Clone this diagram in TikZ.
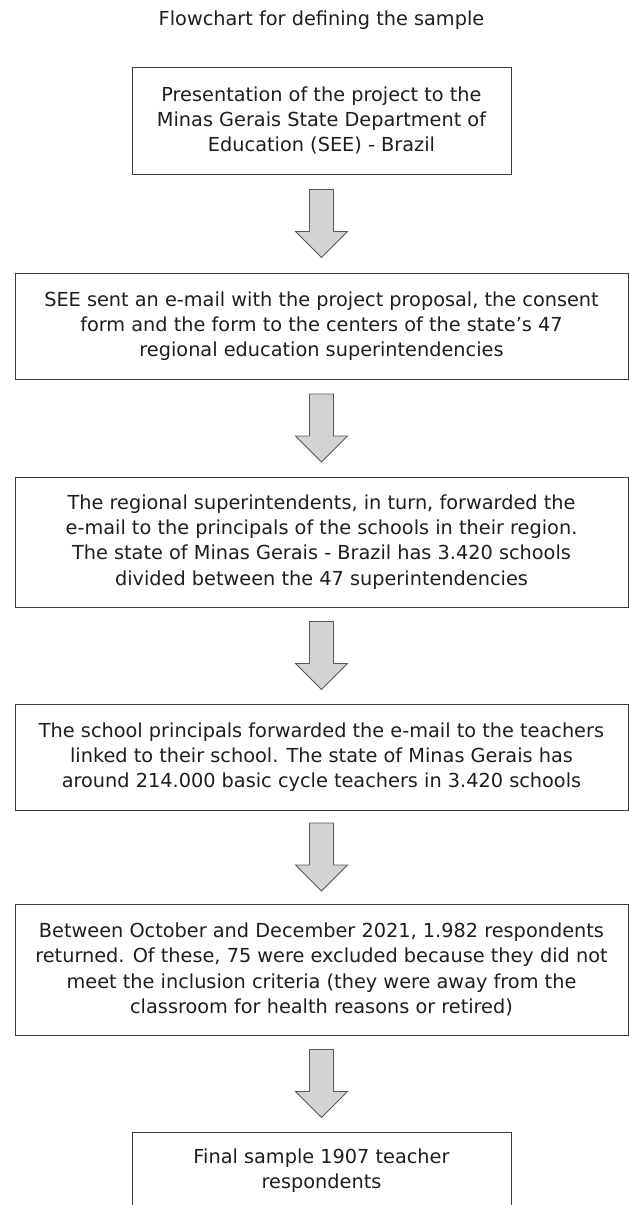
\documentclass[tikz,border=0pt]{standalone}
\usepackage{fontspec}
\setmainfont{DejaVu Sans}
\usetikzlibrary{calc}

\definecolor{linegray}{HTML}{3C3C3C}
\definecolor{arrowfill}{HTML}{D3D3D5}
\definecolor{inkgray}{HTML}{1E1E1E}

\tikzset{
    box/.style={draw=linegray, line width=1pt, align=center, inner sep=0pt,
        text=inkgray, font=\fontsize{19.3}{25.3}\selectfont},
    widebox/.style={box, minimum width=613pt},
    narrowbox/.style={box, minimum width=379pt},
    blockarrow/.style={draw=linegray!85, fill=arrowfill, line width=0.9pt, line join=miter}
}

\begin{document}
\begin{tikzpicture}[x=1pt, y=-1pt]
        \useasboundingbox (0,0) rectangle (629,1205);

        \node[anchor=base, text=inkgray, font=\fontsize{19.3}{25.3}\selectfont] (title) at (321.5,25) {Flowchart for defining the sample};

        \node[narrowbox, minimum height=107pt] (present) at (321.5,120.5)
            {Presentation of the project to the\\Minas Gerais State Department of\\Education (SEE) - Brazil};
        \node[widebox, minimum height=106pt] (email) at (321.5,326)
            {SEE sent an e-mail with the project proposal, the consent\\form and the form to the centers of the state’s 47\\regional education superintendencies};
        \node[widebox, minimum height=130pt] (regional) at (321.5,542)
            {The regional superintendents, in turn, forwarded the\\e-mail to the principals of the schools in their region.\\The state of Minas Gerais - Brazil has 3.420 schools\\divided between the 47 superintendencies};
        \node[widebox, minimum height=106pt] (principals) at (321.5,757)
            {The school principals forwarded the e-mail to the teachers\\linked to their school. The state of Minas Gerais has\\around 214.000 basic cycle teachers in 3.420 schools};
        \node[widebox, minimum height=131pt] (returned) at (321.5,969.5)
            {Between October and December 2021, 1.982 respondents\\returned. Of these, 75 were excluded because they did not\\meet the inclusion criteria (they were away from the\\classroom for health reasons or retired)};
        \node[narrowbox, minimum height=78pt] (final) at (321.5,1171)
            {Final sample 1907 teacher\\respondents};

        % block arrows between the boxes
        \foreach \from/\to in {present/email, email/regional, regional/principals, principals/returned, returned/final}{
            \coordinate (mid) at ($(\from.south)!0.5!(\to.north)$);
            \draw[blockarrow] ($(mid)+(-12,-34)$) -- ($(mid)+(12,-34)$) -- ($(mid)+(12,8)$)
                -- ($(mid)+(26,8)$) -- ($(mid)+(0,34)$) -- ($(mid)+(-26,8)$) -- ($(mid)+(-12,8)$) -- cycle;
        }
    \end{tikzpicture}
\end{document}
